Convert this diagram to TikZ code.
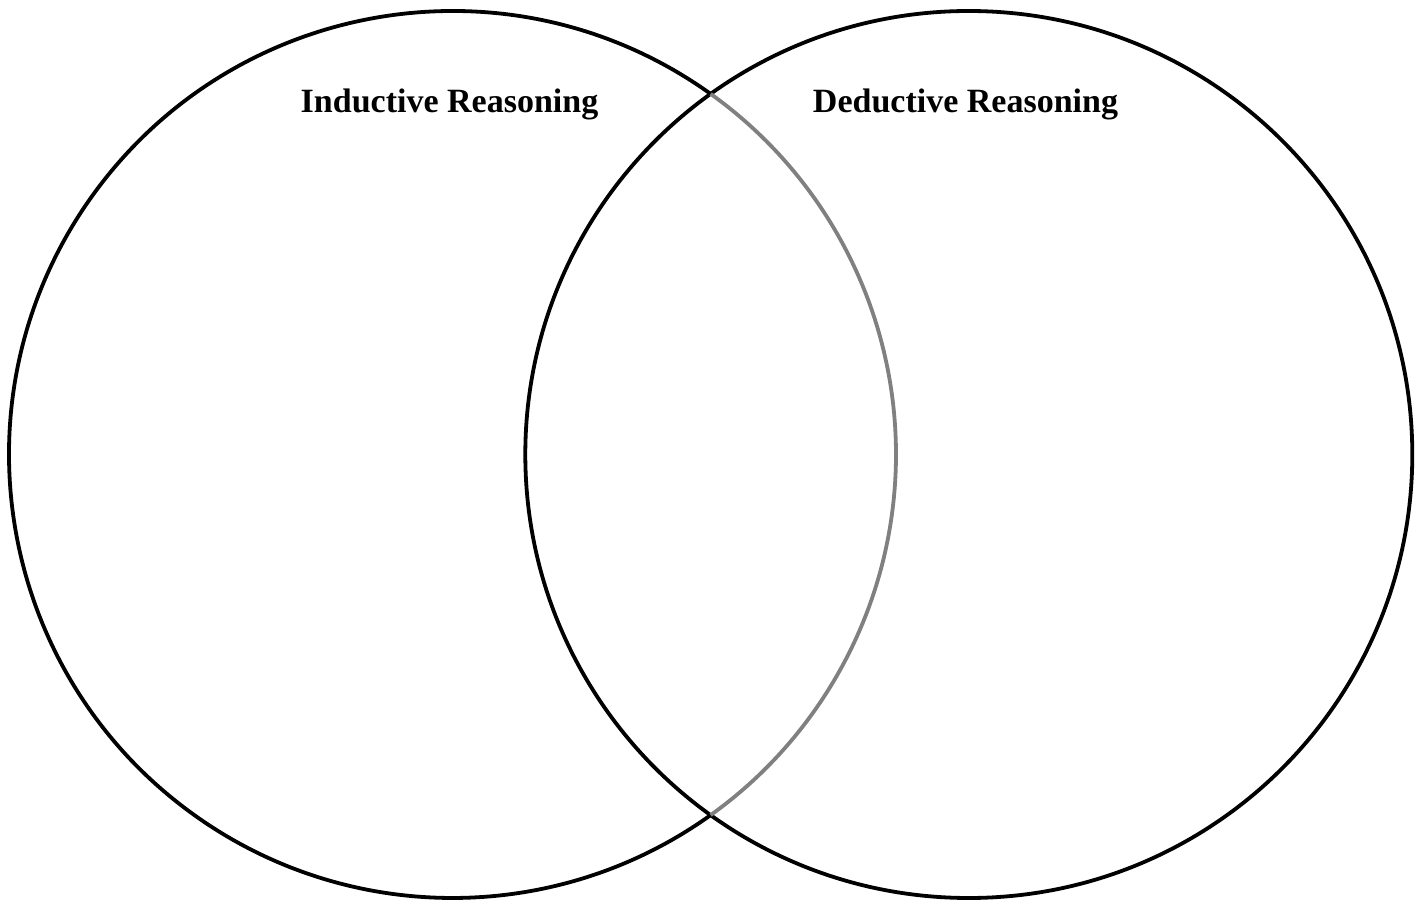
\documentclass[tikz,border=0pt]{standalone}
\usepackage{fontspec}
\setmainfont{Liberation Serif}
\usepackage{tikz}
\usetikzlibrary{positioning}
\definecolor{inner}{RGB}{128, 128, 128}
\tikzstyle{ring} = [circle, draw=black, line width=3.8pt, minimum size=887pt, inner sep=0pt, outer sep=0pt]
\tikzstyle{title} = [anchor=base, text=black, font=\bfseries\fontsize{34}{40}\selectfont]
\tikzstyle{rim} = [draw=black, line width=3.8pt]
\tikzstyle{overlap} = [draw=inner, line width=3.8pt]
\begin{document}
\begin{tikzpicture}[x=1pt, y=1pt]
\useasboundingbox (0,0) rectangle (1424,900);

% the two sets ===============================
\node[ring, draw=none] (ind) at (452.5,445.5) {};
\node[ring] (ded) at (968.8,445.5) {};

% left set: outer part black, part inside the right set grey
\draw[rim] ([shift={(54.4:443.5)}]ind.center) arc[start angle=54.4, end angle=305.6, radius=443.5];
\draw[overlap] ([shift={(54.4:443.5)}]ind.center) arc[start angle=54.4, end angle=-54.4, radius=443.5];

% titles
\node[title] (indtitle) at (449.5,787) {Inductive Reasoning};
\node[title] (dedtitle) at (965.5,787) {Deductive Reasoning};

\end{tikzpicture}
\end{document}
